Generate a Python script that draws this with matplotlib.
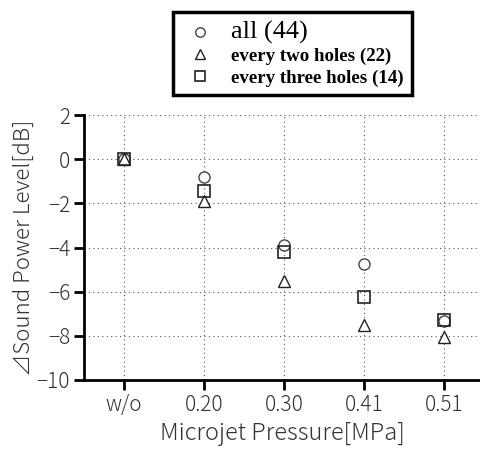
import matplotlib
matplotlib.use('Agg')
import matplotlib.pyplot as plt
import numpy as np

# data
pressures = ['w/o', '0.20', '0.30', '0.41', '0.51']
all44 = [0.0, -0.8, -3.9, -4.75, -7.35]
every2 = [0.0, -1.9, -5.5, -7.5, -8.05]
every3 = [0.0, -1.45, -4.2, -6.25, -7.3]
labels = ['all (44)', 'every two holes (22)', 'every three holes (14)']

plt.rcParams['font.family'] = ['Noto Sans CJK JP', 'DejaVu Sans']

fig = plt.figure(figsize=(4.81, 4.53), dpi=100)
ax = fig.add_axes([84/481, 1-380/453, 396/481, 265/453])

xs = np.arange(len(pressures))
h1, = ax.plot(xs, all44, 'o', ms=8, mfc='white', mec='#444444', mew=1.0, ls='none', zorder=3)
h2, = ax.plot(xs, every2, '^', ms=9, mfc='white', mec='#222222', mew=1.0, ls='none', zorder=3)
h3, = ax.plot(xs, every3, 's', ms=8, mfc='none', mec='#222222', mew=1.2, ls='none', zorder=3)

ax.set_xlim(-0.5, 4.45)
ax.set_ylim(-10, 2)
ax.set_xticks(xs)
ax.set_xticklabels(pressures)
ax.set_yticks(np.arange(-10, 3, 2))
ax.set_yticklabels(['\u221210', '\u22128', '\u22126', '\u22124', '\u22122', '0', '2'])

ax.grid(True, ls=(0, (1, 3)), color='#555555', lw=0.8)
for s in ['top', 'right']:
    ax.spines[s].set_visible(False)
for s in ['left', 'bottom']:
    ax.spines[s].set_linewidth(2)
ax.tick_params(width=2, length=7, labelsize=15, colors='black', labelcolor='#333333', pad=3)
for t in ax.get_xticklabels() + ax.get_yticklabels():
    t.set_fontweight('light')

ax.set_xlabel('Microjet Pressure[MPa]', fontsize=17, color='#333333', labelpad=4, fontweight='light')
ax.set_ylabel('\u22bfSound Power Level[dB]', fontsize=16, color='#333333', labelpad=1, fontweight='light')

leg = fig.legend([h1, h2, h3], labels, loc='upper left',
                 bbox_to_anchor=(173/481, 1-12/453), borderaxespad=0, frameon=True, fancybox=False,
                 framealpha=1, borderpad=0.45, handletextpad=0.6, labelspacing=0.22, markerscale=0.85,
                 prop={'family': 'Liberation Serif', 'size': 13.6, 'weight': 'bold'})
leg.get_frame().set_edgecolor('black')
leg.get_frame().set_linewidth(2.5)
leg.get_texts()[0].set_fontsize(19)
leg.get_texts()[0].set_fontweight('normal')

fig.savefig('out.png', dpi=100)
